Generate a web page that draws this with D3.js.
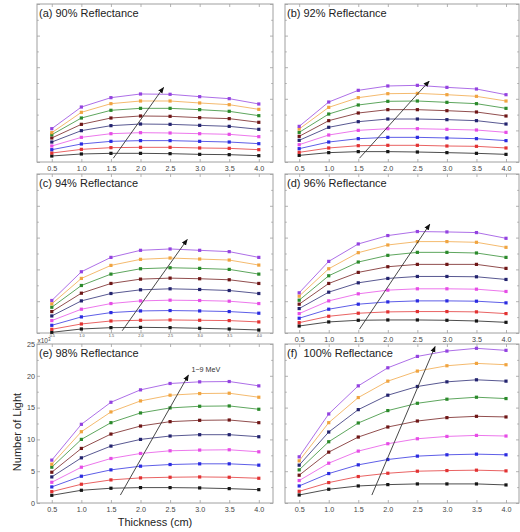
<!DOCTYPE html>
<html>
<head>
<meta charset="utf-8">
<script src="https://cdn.jsdelivr.net/npm/d3@7"></script>
<style>
  body { margin: 0; background: #fff; }
  svg { display: block; font-family: "Liberation Sans", Arial, sans-serif; }
</style>
</head>
<body>
<svg id="chart" width="520" height="532"></svg>
<script>
// ---- data (number of light, x10^3) ----
const thickness = [0.5, 1.0, 1.5, 2.0, 2.5, 3.0, 3.5, 4.0];
const xTickLabels = ["0.5", "1.0", "1.5", "2.0", "2.5", "3.0", "3.5", "4.0"];
const yTicks = [0, 5, 10, 15, 20, 25];
const energies = ["1 MeV", "2 MeV", "3 MeV", "4 MeV", "5 MeV", "6 MeV", "7 MeV", "8 MeV", "9 MeV"];

// colour of each series, bottom curve (1 MeV) first
const colorsStd = ["#151515", "#e23232", "#2b2be0", "#e64ce6", "#23236e", "#6e1616", "#2b8a2b", "#f0a440", "#9342e0"];
// panel (f) uses a different colour order in the original
const colorsF = ["#151515", "#e23232", "#2b2be0", "#e64ce6", "#6e1616", "#2b8a2b", "#23236e", "#f0a440", "#9342e0"];

const refl90 = [
  [0.95, 1.27, 1.37, 1.37, 1.32, 1.21, 1.16, 1.00],
  [1.42, 2.00, 2.27, 2.32, 2.32, 2.22, 2.16, 1.95],
  [1.95, 2.85, 3.27, 3.38, 3.38, 3.27, 3.16, 2.90],
  [2.53, 3.90, 4.48, 4.64, 4.59, 4.48, 4.38, 4.01],
  [3.16, 4.96, 5.75, 6.01, 5.96, 5.80, 5.64, 5.17],
  [3.80, 5.96, 6.96, 7.28, 7.23, 7.01, 6.86, 6.28],
  [4.32, 6.96, 8.18, 8.49, 8.49, 8.28, 8.02, 7.33],
  [4.64, 7.86, 9.23, 9.65, 9.65, 9.34, 9.07, 8.33],
  [5.27, 8.70, 10.18, 10.76, 10.71, 10.34, 10.02, 9.18]
];
const refl92 = [
  [1.05, 1.48, 1.64, 1.64, 1.58, 1.48, 1.37, 1.21],
  [1.53, 2.22, 2.58, 2.64, 2.64, 2.53, 2.48, 2.22],
  [2.11, 3.16, 3.69, 3.90, 3.90, 3.80, 3.69, 3.38],
  [2.74, 4.27, 5.01, 5.27, 5.27, 5.17, 5.06, 4.69],
  [3.43, 5.49, 6.38, 6.80, 6.80, 6.70, 6.54, 6.01],
  [4.06, 6.54, 7.75, 8.28, 8.28, 8.12, 7.91, 7.28],
  [4.69, 7.59, 9.02, 9.60, 9.65, 9.44, 9.23, 8.49],
  [5.22, 8.65, 10.18, 10.81, 10.86, 10.65, 10.39, 9.65],
  [5.64, 9.49, 11.34, 12.03, 12.13, 11.81, 11.55, 10.65]
];
const refl94 = [
  [0.11, 0.63, 0.84, 0.89, 0.84, 0.74, 0.63, 0.47],
  [0.58, 1.42, 1.89, 2.00, 2.05, 2.00, 1.95, 1.74],
  [1.21, 2.53, 3.21, 3.47, 3.53, 3.47, 3.37, 3.11],
  [1.95, 3.74, 4.63, 5.05, 5.16, 5.11, 5.00, 4.63],
  [2.68, 5.05, 6.21, 6.79, 6.95, 6.84, 6.68, 6.21],
  [3.37, 6.26, 7.79, 8.47, 8.63, 8.53, 8.37, 7.79],
  [4.05, 7.47, 9.26, 10.10, 10.26, 10.16, 10.00, 9.26],
  [4.58, 8.58, 10.63, 11.58, 11.79, 11.63, 11.47, 10.68],
  [5.11, 9.63, 11.89, 13.00, 13.21, 13.00, 12.79, 11.89]
];
const refl96 = [
  [1.10, 1.74, 2.00, 2.05, 2.05, 2.00, 1.89, 1.68],
  [1.63, 2.63, 3.11, 3.32, 3.37, 3.37, 3.32, 3.05],
  [2.32, 3.74, 4.53, 4.89, 5.05, 5.05, 5.00, 4.74],
  [3.05, 5.05, 6.16, 6.74, 6.95, 6.95, 6.89, 6.53],
  [3.84, 6.42, 7.89, 8.58, 8.89, 8.89, 8.84, 8.42],
  [4.53, 7.79, 9.53, 10.42, 10.79, 10.79, 10.79, 10.16],
  [5.16, 9.00, 11.16, 12.21, 12.68, 12.68, 12.58, 11.89],
  [5.79, 10.10, 12.63, 13.84, 14.37, 14.37, 14.26, 13.47],
  [6.32, 11.26, 14.00, 15.32, 15.95, 15.89, 15.79, 14.89]
];
const refl98 = [
  [1.21, 2.00, 2.32, 2.42, 2.42, 2.37, 2.26, 2.10],
  [1.79, 2.95, 3.63, 3.95, 4.05, 4.10, 4.05, 3.89],
  [2.53, 4.21, 5.21, 5.79, 6.05, 6.16, 6.16, 5.95],
  [3.26, 5.63, 7.00, 7.79, 8.21, 8.32, 8.37, 8.05],
  [4.10, 7.10, 8.95, 10.00, 10.53, 10.74, 10.74, 10.42],
  [4.84, 8.58, 10.84, 12.10, 12.79, 13.00, 13.05, 12.63],
  [5.63, 10.00, 12.63, 14.16, 14.95, 15.21, 15.26, 14.74],
  [6.10, 11.21, 14.32, 16.05, 16.95, 17.21, 17.26, 16.63],
  [6.74, 12.37, 15.84, 17.79, 18.79, 19.05, 19.10, 18.42]
];
const refl100 = [
  [1.26, 2.16, 2.68, 2.89, 3.00, 3.00, 3.00, 2.84],
  [1.84, 3.21, 4.16, 4.68, 5.00, 5.10, 5.16, 5.05],
  [2.68, 4.63, 6.00, 6.84, 7.37, 7.58, 7.68, 7.58],
  [3.53, 6.26, 8.16, 9.32, 10.10, 10.47, 10.63, 10.53],
  [4.37, 8.00, 10.37, 11.95, 12.89, 13.42, 13.63, 13.53],
  [5.21, 9.63, 12.58, 14.53, 15.68, 16.32, 16.63, 16.42],
  [5.95, 11.16, 14.68, 16.95, 18.32, 19.05, 19.37, 19.16],
  [6.63, 12.63, 16.58, 19.16, 20.74, 21.58, 21.95, 21.74],
  [7.26, 14.00, 18.42, 21.26, 23.05, 23.89, 24.32, 24.00]
];

// energy arrows [x0, y0, x1, y1] in data units
const arrowA = [1.54, 0.6, 2.39, 11.8];
const arrowB = [1.52, 0.6, 2.70, 12.8];
const arrowC = [1.69, 0.35, 2.79, 14.7];
const arrowD = [1.52, 0.6, 2.71, 17.1];
const arrowE = [1.66, 1.25, 2.81, 20.1];
const arrowF = [1.73, 1.25, 2.80, 24.6];

// ---- layout ----
const svg = d3.select("#chart");
const frameColor = "#a0a0a0";
const labelColor = "#444";

const defs = svg.append("defs");
defs.append("marker")
  .attr("id", "head")
  .attr("viewBox", "0 0 10 10")
  .attr("refX", 9).attr("refY", 5)
  .attr("markerWidth", 7).attr("markerHeight", 7)
  .attr("orient", "auto")
  .append("path")
  .attr("d", "M0,1 L10,5 L0,9 Z")
  .attr("fill", "#111");

const panels = [
  { title: "(a) 90% Reflectance", data: refl90, colors: colorsStd, arrow: arrowA, left: 37, top: 4, right: 273, bottom: 162, xDomain: [0.25, 4.24], tickFont: 7.2 },
  { title: "(b) 92% Reflectance", data: refl92, colors: colorsStd, arrow: arrowB, left: 285, top: 4, right: 519, bottom: 162, xDomain: [0.26, 4.22], tickFont: 7.2 },
  { title: "(c) 94% Reflectance", data: refl94, colors: colorsStd, arrow: arrowC, left: 37, top: 174, right: 273, bottom: 333, xDomain: [0.25, 4.24], tickFont: 3.8 },
  { title: "(d) 96% Reflectance", data: refl96, colors: colorsStd, arrow: arrowD, left: 285, top: 174, right: 519, bottom: 333, xDomain: [0.26, 4.22], tickFont: 7.2 },
  { title: "(e) 98% Reflectance", data: refl98, colors: colorsStd, arrow: arrowE, left: 37, top: 344, right: 273, bottom: 503, xDomain: [0.25, 4.24], tickFont: 7.2, yLabels: true },
  { title: "(f)  100% Reflectance", data: refl100, colors: colorsF, arrow: arrowF, left: 285, top: 344, right: 519, bottom: 503, xDomain: [0.26, 4.22], tickFont: 7.2 }
];

function styleAxis(g, fontSize) {
  g.select(".domain").remove();
  g.selectAll(".tick line").attr("stroke", frameColor).attr("stroke-width", 0.8);
  g.selectAll(".tick text").attr("fill", labelColor).attr("font-size", fontSize + "px")
    .attr("font-family", "\"Liberation Sans\", Arial, sans-serif");
}

panels.forEach(p => {
  const x = d3.scaleLinear().domain(p.xDomain).range([p.left, p.right]);
  const y = d3.scaleLinear().domain([0, 25]).range([p.bottom, p.top]);
  const g = svg.append("g");
  const minor = d3.range(2.5, 25, 5);

  // bottom axis with labels, ticks pointing in
  g.append("g").attr("transform", `translate(0,${p.bottom})`)
    .call(d3.axisBottom(x).tickValues(thickness).tickFormat((d, i) => xTickLabels[i])
      .tickSizeInner(-3).tickSizeOuter(0).tickPadding(p.tickFont < 5 ? 1.5 : 3.5))
    .call(a => styleAxis(a, p.tickFont));
  // top mirror ticks
  g.append("g").attr("transform", `translate(0,${p.top})`)
    .call(d3.axisTop(x).tickValues(thickness).tickFormat("").tickSizeInner(-3).tickSizeOuter(0))
    .call(a => styleAxis(a, 7));
  // left axis
  g.append("g").attr("transform", `translate(${p.left},0)`)
    .call(d3.axisLeft(y).tickValues(yTicks).tickFormat(p.yLabels ? d3.format("d") : "")
      .tickSizeInner(-3).tickSizeOuter(0).tickPadding(2))
    .call(a => styleAxis(a, 7.2));
  g.append("g").attr("transform", `translate(${p.left},0)`)
    .call(d3.axisLeft(y).tickValues(minor).tickFormat("").tickSizeInner(-1.8).tickSizeOuter(0))
    .call(a => styleAxis(a, 7));
  // right mirror ticks
  g.append("g").attr("transform", `translate(${p.right},0)`)
    .call(d3.axisRight(y).tickValues(yTicks).tickFormat("").tickSizeInner(-3).tickSizeOuter(0))
    .call(a => styleAxis(a, 7));
  g.append("g").attr("transform", `translate(${p.right},0)`)
    .call(d3.axisRight(y).tickValues(minor).tickFormat("").tickSizeInner(-1.8).tickSizeOuter(0))
    .call(a => styleAxis(a, 7));

  // frame
  g.append("rect")
    .attr("x", p.left).attr("y", p.top)
    .attr("width", p.right - p.left).attr("height", p.bottom - p.top)
    .attr("fill", "none").attr("stroke", frameColor).attr("stroke-width", 1);

  // series
  const line = d3.line().x((d, i) => x(thickness[i])).y(d => y(d));
  p.data.forEach((row, si) => {
    const c = p.colors[si];
    g.append("path").datum(row)
      .attr("d", line)
      .attr("fill", "none").attr("stroke", c).attr("stroke-width", 0.9)
      .attr("stroke-opacity", 0.85);
    g.selectAll(null).data(row).join("rect")
      .attr("x", (d, i) => x(thickness[i]) - 1.6)
      .attr("y", d => y(d) - 1.6)
      .attr("width", 3.2).attr("height", 3.2)
      .attr("fill", c)
      .append("title").text((d, i) => `${energies[si]}, ${thickness[i]} cm: ${d}`);
  });

  // arrow 1 -> 9 MeV
  const a = p.arrow;
  g.append("line")
    .attr("x1", x(a[0])).attr("y1", y(a[1]))
    .attr("x2", x(a[2])).attr("y2", y(a[3]))
    .attr("stroke", "#333").attr("stroke-width", 0.9)
    .attr("marker-end", "url(#head)");

  // title
  g.append("text")
    .attr("x", p.left + 2).attr("y", p.top + 13)
    .attr("font-size", "11px").attr("fill", "#222")
    .style("white-space", "pre")
    .text(p.title);

  if (p.yLabels) {
    // x10^3 multiplier
    const m = g.append("text").attr("x", p.left + 0.5).attr("y", p.top - 1)
      .attr("font-size", "6.5px").attr("fill", labelColor);
    m.append("tspan").text("x10");
    m.append("tspan").attr("font-size", "4.5px").attr("dy", -2.5).text("3");
    // energy range note
    g.append("text")
      .attr("x", x(a[2]) + 3).attr("y", y(a[3]) - 3)
      .attr("font-size", "7.2px").attr("fill", "#333")
      .text("1~9 MeV");
  }
});

// axis titles
svg.append("text")
  .attr("transform", "translate(20.7,432) rotate(-90)")
  .attr("text-anchor", "middle")
  .attr("font-size", "11px").attr("fill", "#222")
  .text("Number of Light");

svg.append("text")
  .attr("x", 155).attr("y", 525.5)
  .attr("text-anchor", "middle")
  .attr("font-size", "11px").attr("fill", "#222")
  .text("Thickness (cm)");
</script>
</body>
</html>
